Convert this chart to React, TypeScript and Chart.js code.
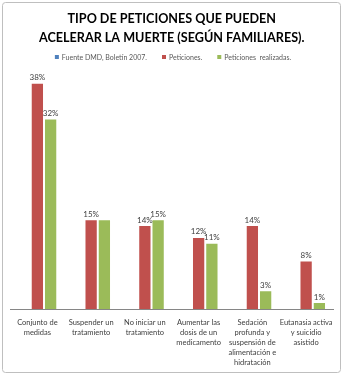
import React, { useEffect, useRef } from "react";
import { Chart, registerables } from "chart.js";

Chart.register(...registerables);

const categories: string[][] = [
  ["Conjunto de", "medidas"],
  ["Suspender un", "tratamiento"],
  ["No iniciar un", "tratamiento"],
  ["Aumentar las", "dosis de un", "medicamento"],
  ["Sedación", "profunda y", "suspensión de", "alimentación e", "hidratación"],
  ["Eutanasia activa", "y suicidio", "asistido"],
];
const fuenteValues: (number | null)[] = [null, null, null, null, null, null];
const peticionesValues: number[] = [38, 15, 14, 12, 14, 8];
const realizadasValues: number[] = [32, 15, 15, 11, 3, 1];
const peticionesLabels: string[] = ["38%", "15%", "14%", "12%", "14%", "8%"];
const realizadasLabels: string[] = ["32%", "", "15%", "11%", "3%", "1%"];
const titleLines: string[] = ["TIPO DE PETICIONES QUE PUEDEN", "ACELERAR LA MUERTE (SEGÚN FAMILIARES)."];
const seriesNames: string[] = ["Fuente DMD, Boletín 2007.", "Peticiones.", "Peticiones  realizadas."];

const FONT = "Lato, 'Open Sans', sans-serif";

export default function App() {
  const ref = useRef<HTMLCanvasElement>(null);
  useEffect(() => {
    document.body.style.margin = "0";
    const canvas = ref.current!;
    const labelSets: (string[] | null)[] = [null, peticionesLabels, realizadasLabels];

    const decor = {
      id: "decor",
      beforeDraw(chart: any) {
        const ctx = chart.ctx;
        ctx.save();
        ctx.fillStyle = "#ffffff";
        ctx.fillRect(0, 0, chart.width, chart.height);
        ctx.strokeStyle = "#bfbfbf";
        ctx.lineWidth = 1;
        ctx.beginPath();
        (ctx as any).roundRect ? ctx.roundRect(2.5, 2.5, 338, 370, 3) : ctx.rect(2.5, 2.5, 338, 370);
        ctx.stroke();
        ctx.restore();
      },
      afterDraw(chart: any) {
        const ctx = chart.ctx;
        ctx.save();
        // legend
        ctx.font = "7px " + FONT;
        ctx.textBaseline = "middle";
        const box = 4;
        const gap = 3;
        const spacing = 15;
        const widths = chart.data.datasets.map((d: any) => box + gap + ctx.measureText(d.label).width);
        const total = widths.reduce((a: number, b: number) => a + b, 0) + spacing * (widths.length - 1);
        let x = 173 - total / 2;
        const y = 57;
        chart.data.datasets.forEach((d: any, i: number) => {
          ctx.fillStyle = d.backgroundColor;
          ctx.fillRect(x, y - box / 2, box, box);
          ctx.fillStyle = "#595959";
          ctx.textAlign = "left";
          ctx.fillText(d.label, x + box + gap, y + 0.5);
          x += widths[i] + spacing;
        });
        // data labels
        ctx.font = "8px " + FONT;
        ctx.fillStyle = "#404040";
        ctx.textAlign = "center";
        ctx.textBaseline = "bottom";
        chart.data.datasets.forEach((d: any, di: number) => {
          const labs = labelSets[di];
          if (!labs) return;
          const meta = chart.getDatasetMeta(di);
          meta.data.forEach((bar: any, i: number) => {
            if (labs[i]) ctx.fillText(labs[i], bar.x, bar.y - 2);
          });
        });
        ctx.restore();
      },
    };

    const chart = new Chart(canvas, {
      type: "bar",
      data: {
        labels: categories,
        datasets: [
          { label: seriesNames[0], data: fuenteValues, backgroundColor: "#4F81BD" },
          { label: seriesNames[1], data: peticionesValues, backgroundColor: "#C0504D" },
          { label: seriesNames[2], data: realizadasValues, backgroundColor: "#9BBB59" },
        ],
      },
      options: {
        animation: false,
        responsive: false,
        devicePixelRatio: 1,
        layout: { padding: { top: 7, left: 10.5, right: 10, bottom: 4 } },
        datasets: { bar: { categoryPercentage: 0.74, barPercentage: 0.85 } },
        plugins: {
          legend: { display: false },
          tooltip: { enabled: false },
          title: {
            display: true,
            text: titleLines,
            color: "#000000",
            font: { family: FONT, size: 12.6, weight: "bold", lineHeight: 19 / 12.6 },
            padding: { top: 2, bottom: 25 },
          },
        },
        scales: {
          x: {
            grid: { display: false, drawTicks: false },
            border: { display: true, color: "#868686", width: 1 },
            ticks: {
              color: "#404040",
              font: { family: FONT, size: 7.5, lineHeight: 1.33 },
              padding: 9,
              maxRotation: 0,
              autoSkip: false,
            },
            afterFit: (s: any) => {
              s.height = 63;
            },
          },
          y: {
            display: false,
            min: 0,
            max: 40,
          },
        },
      },
      plugins: [decor],
    } as any);
    return () => chart.destroy();
  }, []);
  return <canvas ref={ref} width={343} height={376} style={{ display: "block" }} />;
}
